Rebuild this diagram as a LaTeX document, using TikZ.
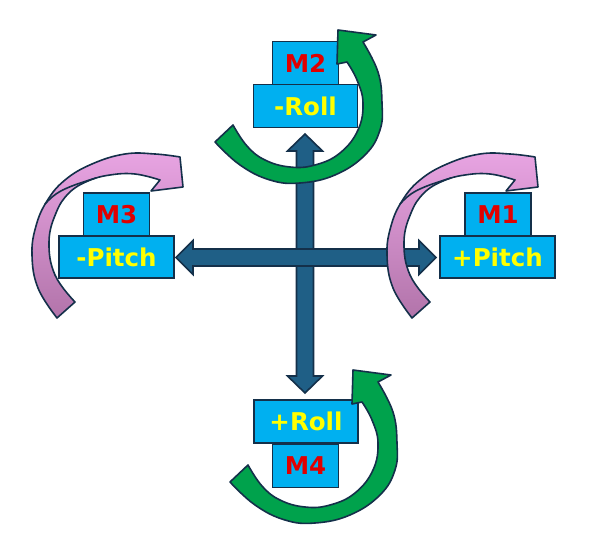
\documentclass[tikz,border=0pt]{standalone}
\usepackage{fontspec}
\newfontfamily\lab{DejaVu Sans}
\definecolor{boxblue}{HTML}{00B0F0}
\definecolor{edge}{HTML}{14304A}
\definecolor{shaft}{HTML}{1F5F86}
\definecolor{mred}{HTML}{E00000}
\definecolor{ayel}{HTML}{FFFF00}
\definecolor{pinklt}{HTML}{E8A4E2}
\definecolor{pinkdk}{HTML}{B274AA}
\definecolor{grn}{HTML}{00A24C}
\begin{document}
\begin{tikzpicture}[x=1pt,y=-1pt,
  box/.style={draw=edge, line width=1.6pt, fill=boxblue, inner sep=0pt,
    font=\lab\bfseries\fontsize{24.5}{24.5}\selectfont},
  mbox/.style={box, minimum width=66pt, minimum height=43pt, text=mred},
  pbox/.style={box, minimum width=115pt, minimum height=42pt, text=ayel},
  rbox/.style={box, minimum width=104pt, minimum height=43pt, text=ayel},
  blk/.style={draw=edge, line width=1.6pt, fill=shaft, line join=miter},
  pinkarrow/.style={draw=edge, line width=1.6pt, top color=pinklt, bottom color=pinkdk, line join=round},
  twist/.style={draw=edge, line width=1.6pt},
  grnarrow/.style={draw=edge, line width=1.6pt, fill=grn, line join=round}]
\useasboundingbox (0,0) rectangle (592,553);
\fill[white] (0,0) rectangle (592,553);

% straight block arrows
\draw[blk] (305,134) -- (322.5,151) -- (313.5,151) -- (313.5,376) -- (322.5,376) -- (305,393)
  -- (287.5,376) -- (296.5,376) -- (296.5,151) -- (287.5,151) -- cycle;
\draw[blk] (176,257.5) -- (193,240.5) -- (193,249) -- (419,249) -- (419,240.5) -- (436,257.5)
  -- (419,274.5) -- (419,266) -- (193,266) -- (193,274.5) -- cycle;

% boxes
\node[mbox] (m2) at (305.5,63) {M2};
\node[rbox] (rneg) at (305.5,106) {-Roll};
\node[mbox] (m3) at (116.5,214.5) {M3};
\node[pbox] (pneg) at (116.5,257) {-Pitch};
\node[mbox] (m1) at (498,214.5) {M1};
\node[pbox] (ppos) at (497.5,257) {+Pitch};
\node[rbox] (rpos) at (306,421.5) {+Roll};
\node[mbox] (m4) at (305.5,466) {M4};

% pink curved arrows
\foreach \dx in {0,355}{
\begin{scope}[shift={(\dx,0)}]
\path[pinkarrow] plot[smooth, tension=0.7] coordinates {(57,318) (38,288) (32,255) (36,226) (47,201) (65,180) (92,164) (125,154) (155,154) (180,157)}
  -- (183,187) -- (151,191)
  -- plot[smooth, tension=0.7] coordinates {(160,180) (135,174) (110,175) (88,181) (69,193) (56,213) (49,242) (55,275) (75,302)}
  -- cycle;
\draw[twist] plot[smooth, tension=0.7] coordinates {(96,178) (72,186) (56,194) (45,204)};
\end{scope}}

% green curved arrows
\foreach \sx/\sy in {0/0,-15/-340}{
\begin{scope}[shift={(\sx,\sy)}]
\path[grnarrow] plot[smooth, tension=0.7] coordinates {(230,482) (255,505) (285,520) (315,523) (350,515) (380,495) (395,470) (397,443) (393,412) (378,382)}
  -- (391,375) -- (353,370) -- (352,404)
  -- plot[smooth, tension=0.7] coordinates {(362,402) (372,420) (378,443) (373,470) (355,493) (330,505) (305,507) (280,500) (262,486) (248,465)}
  -- cycle;
\end{scope}}
\end{tikzpicture}
\end{document}
